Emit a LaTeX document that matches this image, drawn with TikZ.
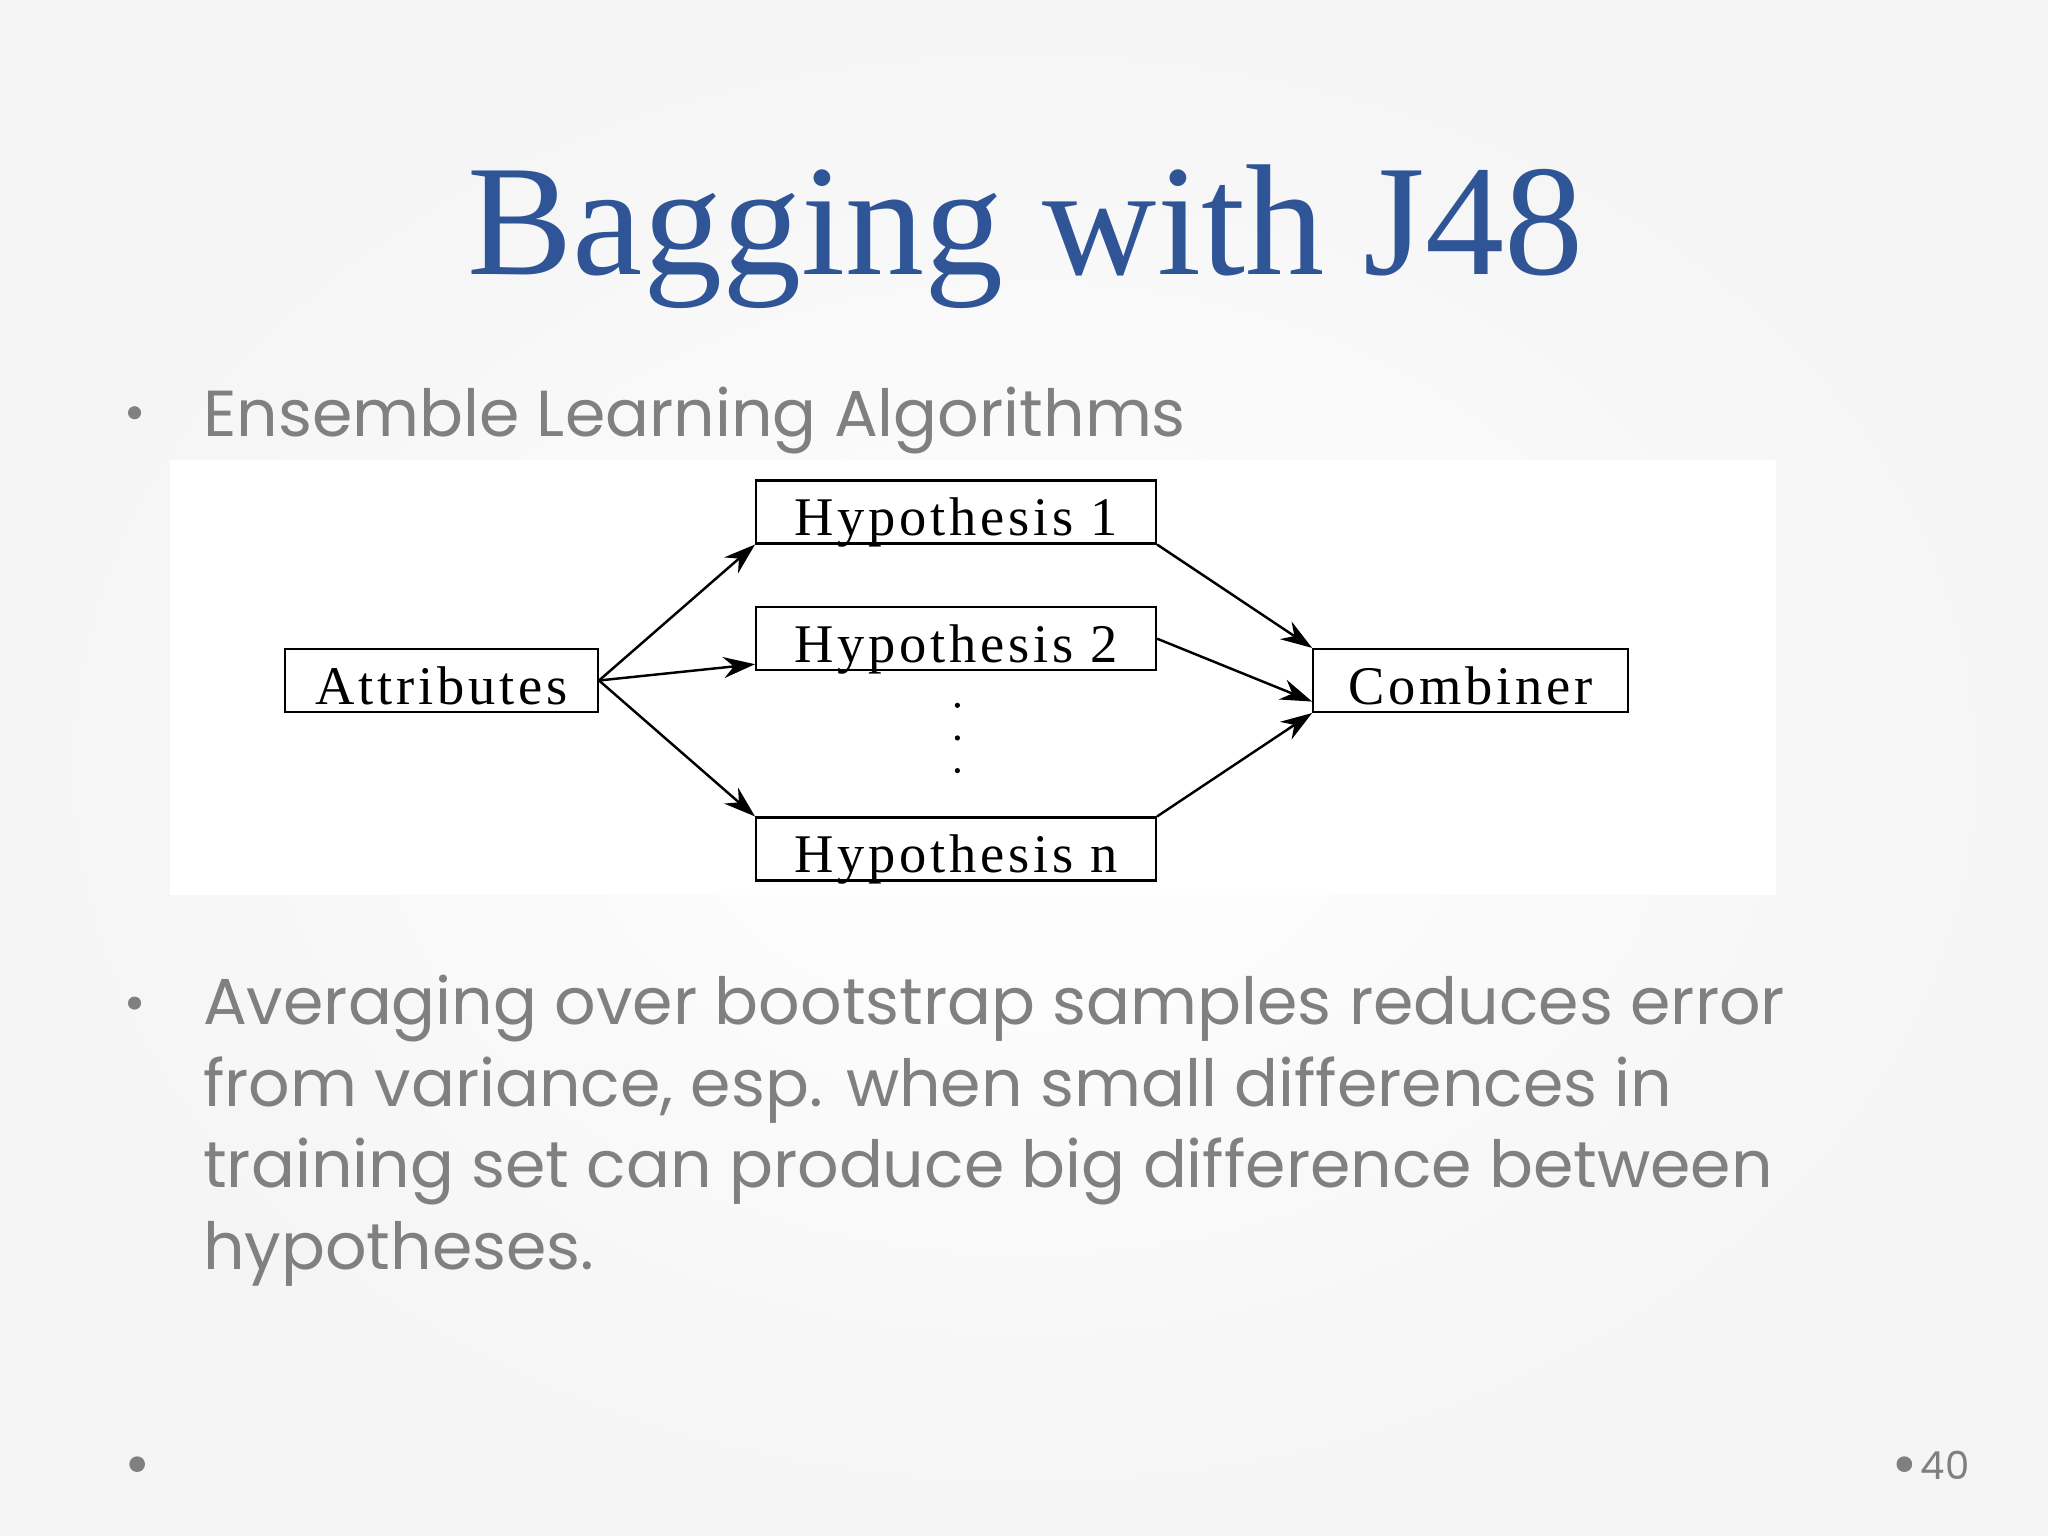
\documentclass[tikz,border=0pt]{standalone}
\usepackage{fontspec}
\setmainfont{Liberation Serif}
\newfontfamily\bodyf{Poppins}
\newfontfamily\boxf[LetterSpace=7]{Liberation Serif}
\usetikzlibrary{arrows.meta}
\definecolor{titleblue}{HTML}{2F5597}
\definecolor{bodygray}{HTML}{808080}
\tikzset{
  hbox/.style={draw, line width=0.6pt, minimum height=0.63cm, inner sep=0pt, text height=0.48cm, text depth=0pt, font=\boxf\fontsize{15.5}{18}\selectfont},
  conn/.style={-{Stealth[length=9pt,width=6pt]}, line width=0.7pt},
  body/.style={anchor=base west, text=bodygray, font=\bodyf\fontsize{18.5}{23.2}\selectfont, inner sep=0pt},
}
\begin{document}
\begin{tikzpicture}[x=0.013061cm,y=-0.013061cm]
\useasboundingbox (0,0) rectangle (1568,1176);
\fill[gray!8] (0,0) rectangle (1568,1176);
\shade[inner color=white, outer color=gray!8] (0,0) rectangle (1568,1176);
\node[text=titleblue, font=\fontsize{45}{50}\selectfont, anchor=base, inner sep=0pt] (title) at (785,210) {Bagging with J48};
\fill[bodygray] (103,316) circle (5);
\node[body] (b1) at (155,334) {Ensemble Learning Algorithms};
\fill[white] (130,352) rectangle (1360,685);
\node[hbox, minimum width=3.13cm] (att) at (338,521) {Attributes};
\node[hbox, minimum width=4.0cm] (h1) at (732,392) {Hypothesis 1};
\node[hbox, minimum width=4.0cm] (h2) at (732,489) {Hypothesis 2};
\node[hbox, minimum width=4.0cm] (hn) at (732,650) {Hypothesis n};
\node[hbox, minimum width=3.15cm] (comb) at (1126,521) {Combiner};
\foreach \yy in {540,565,590} \fill (733,\yy) circle (2);
\draw[conn] (att.east) -- (h1.south west);
\draw[conn] (att.east) -- ([yshift=2pt]h2.south west);
\draw[conn] (att.east) -- (hn.north west);
\draw[conn] (h1.south east) -- (comb.north west);
\draw[conn] (h2.east) -- ([yshift=-6pt]comb.west);
\draw[conn] (hn.north east) -- (comb.south west);
\fill[bodygray] (103,768) circle (5);
\node[body, align=left, anchor=north west] (b2) at (155,746) {Averaging over bootstrap samples reduces error\\from variance, esp. when small differences in\\training set can produce big difference between\\hypotheses.};
\fill[bodygray] (105,1121) circle (6);
\fill[bodygray] (1458,1121) circle (6);
\node[text=bodygray, font=\bodyf\fontsize{11}{13}\selectfont, anchor=west, inner sep=0pt] (pg) at (1470,1122) {40};
\end{tikzpicture}
\end{document}
